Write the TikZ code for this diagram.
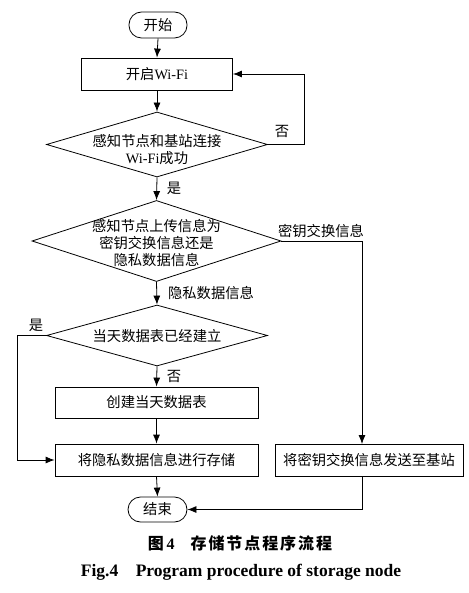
\documentclass[tikz,border=0pt]{standalone}
\usepackage{fontspec}
\setmainfont{Liberation Serif}
\newfontfamily\cjk{Noto Sans CJK SC}
\newfontfamily\cjkcap[LetterSpace=12]{Noto Sans CJK SC}
\usetikzlibrary{shapes.geometric,arrows.meta}
\tikzset{
  base/.style={draw, line width=0.8pt, inner sep=0pt},
  box/.style={base, rectangle},
  term/.style={base, rectangle, rounded corners=12.5pt, minimum width=58pt, minimum height=26pt},
  dia/.style={base, diamond},
  txt/.style={font=\fontsize{14.3}{17}\selectfont, align=center, inner sep=0pt},
  arr/.style={line width=0.8pt, -{Latex[length=9pt,width=7pt]}},
  ln/.style={line width=0.8pt}
}
\begin{document}
\begin{tikzpicture}[x=1pt,y=-1pt]
\useasboundingbox (0,0) rectangle (468,593);
\node[term, txt] (start) at (158,25) {\cjk 开始};
\node[box, txt, minimum width=151pt, minimum height=32pt] (wifi) at (157,74) {{\cjk 开启}Wi-Fi};
\node[dia, minimum width=221pt, minimum height=65pt] (d1) at (157,144.5) {};
\node[txt] (d1t) at (157,150) {{\cjk 感知节点和基站连接}\\Wi-Fi{\cjk 成功}};
\node[dia, minimum width=249pt, minimum height=81pt] (d2) at (156.5,241) {};
\node[txt] (d2t) at (156.5,243) {\cjk 感知节点上传信息为\\\cjk 密钥交换信息还是\\\cjk 隐私数据信息};
\node[dia, minimum width=221pt, minimum height=61pt] (d3) at (157,335.5) {};
\node[txt] (d3t) at (157,336) {\cjk 当天数据表已经建立};
\node[box, txt, minimum width=203pt, minimum height=31pt] (create) at (156.5,402.5) {\cjk 创建当天数据表};
\node[box, txt, minimum width=203pt, minimum height=32pt] (store) at (156.5,460) {\cjk 将隐私数据信息进行存储};
\node[box, txt, minimum width=188pt, minimum height=32pt] (send) at (369,460) {\cjk 将密钥交换信息发送至基站};
\node[term, txt, minimum width=59pt, minimum height=25pt] (end) at (157.5,509.5) {\cjk 结束};
\coordinate (sendin) at (362,444);
\coordinate (sendout) at (362,476);
% labels
\node[txt] (no1) at (282,131) {\cjk 否};
\node[txt] (yes1) at (174,188) {\cjk 是};
\node[txt] (keyl) at (321,231) {\cjk 密钥交换信息};
\node[txt] (privl) at (211,293) {\cjk 隐私数据信息};
\node[txt] (yes2) at (36,325) {\cjk 是};
\node[txt] (no2) at (174,376) {\cjk 否};
% connectors
\draw[arr] (start.south) -- (wifi.north);
\draw[arr] (wifi.south) -- (d1.north);
\draw[arr] (d1.east) -- ++(36,0) |- (wifi.east);
\draw[arr] (d1.south) -- (d2.north);
\draw[arr] (d2.east) -| (sendin);
\draw[arr] (d2.south) -- (d3.north);
\draw[arr] (d3.west) -- ++(-29,0) |- (store.west);
\draw[arr] (d3.south) -- (create.north);
\draw[arr] (create.south) -- (store.north);
\draw[arr] (store.south) -- (end.north);
\draw[arr] (sendout) |- (end.east);
% captions
\node[inner sep=0pt, font=\fontsize{16}{18}\selectfont] (cap1) at (240,543) {{\cjk\bfseries 图}\,\textbf{4}\quad{\cjkcap\bfseries 存储节点程序流程}};
\node[inner sep=0pt, font=\fontsize{17.5}{20}\selectfont\bfseries] (cap2) at (241,572) {Fig.4\quad Program procedure of storage node};
\end{tikzpicture}
\end{document}
